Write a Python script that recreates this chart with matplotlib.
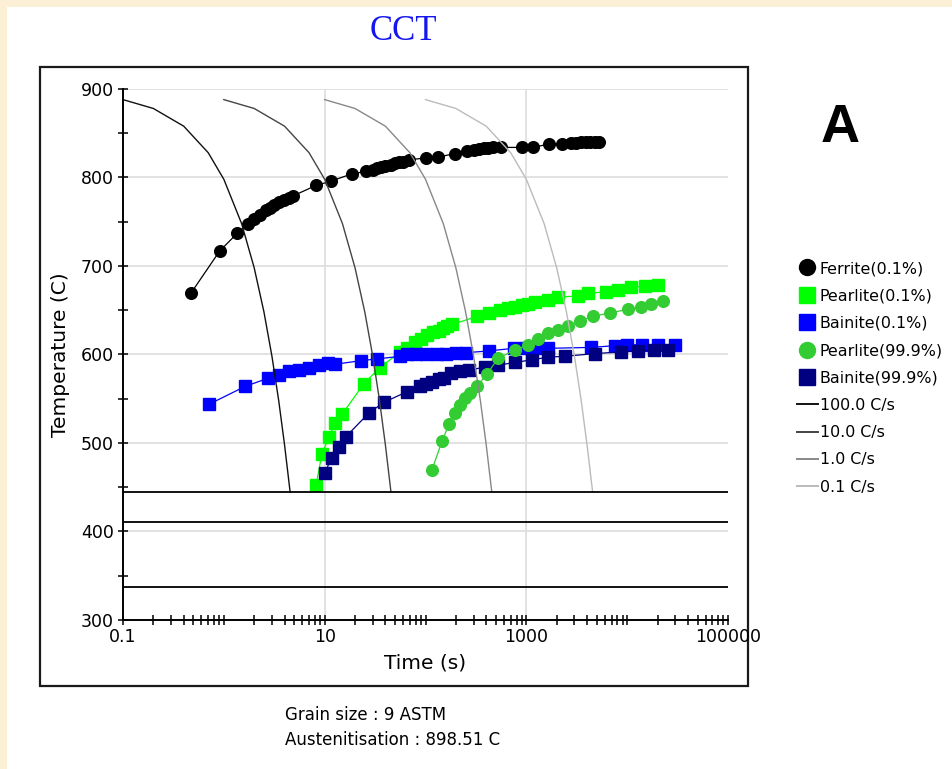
import matplotlib
matplotlib.use("Agg")
import matplotlib.pyplot as plt
from matplotlib.patches import Rectangle
from matplotlib.lines import Line2D
from matplotlib.ticker import FixedLocator, LogLocator, MultipleLocator, NullFormatter

# ---------------- data ----------------
ferrite_t = [0.47, 0.91, 1.36, 1.73, 2.0, 2.3, 2.62, 2.9, 3.17, 3.5, 3.98, 4.4, 4.81,
             8.2, 11.6, 18.5, 25.9, 30, 33, 36, 40, 45, 50, 55, 60, 68,
             100, 133, 195, 257, 300, 340, 380, 420, 470, 560,
             900, 1176, 1690, 2237, 2760, 3100, 3500, 3900, 4300, 4800, 5300]
ferrite_T = [669, 717, 737, 748, 753, 758, 763, 766, 769, 772, 775, 777, 779,
             791, 796, 804, 807, 809, 811, 812, 813, 814, 816, 817, 818, 820,
             822, 823, 827, 830, 831, 832, 833, 833, 834, 834,
             834, 834, 838, 838, 839, 839, 840, 840, 840, 840, 840]

pearlite1_t = [8.2, 9.4, 11.1, 12.7, 15, 24.5, 35, 56.5, 65, 79, 90, 103, 118, 135, 150,
               163, 185, 323, 422, 550, 664, 780, 900, 1050, 1219, 1650, 2070, 3265,
               4100, 6210, 8110, 11000, 14870, 20140]
pearlite1_T = [452, 488, 507, 523, 533, 567, 585, 603, 607, 614, 618, 622, 625, 627, 630,
               632, 634, 643, 647, 650, 652, 654, 656, 657, 659, 662, 665, 666,
               669, 671, 673, 676, 677, 678]

bainite1_t = [0.72, 1.63, 2.72, 3.55, 4.46, 5.6, 7.03, 8.83, 10.7, 12.7, 22.8, 33, 56.5,
              65, 80, 100, 130, 160, 200, 250, 422, 750, 1000, 1300, 1650, 4370,
              7600, 10000, 14000, 20000, 29600]
bainite1_T = [544, 564, 573, 577, 581, 583, 585, 588, 590, 589, 593, 595, 598,
              600, 600, 601, 601, 601, 602, 602, 604, 607, 607, 607, 607, 608,
              610, 611, 611, 611, 611]

pearlite2_t = [116, 146, 172, 198, 221, 248, 278, 324, 406, 529, 772, 1047, 1313, 1650,
               2070, 2600, 3390, 4590, 6700, 10170, 13770, 17300, 22550]
pearlite2_T = [470, 502, 522, 534, 543, 551, 556, 564, 578, 596, 605, 611, 618, 624,
               628, 632, 638, 643, 647, 651, 654, 657, 660]

bainite2_t = [10, 11.7, 13.9, 16.2, 27.5, 38.7, 65.8, 89, 100, 116, 135, 151, 180, 220,
              267, 391, 529, 772, 1128, 1650, 2410, 4780, 8730, 12770, 18650, 25200]
bainite2_T = [466, 483, 496, 507, 534, 546, 558, 564, 567, 569, 572, 574, 579, 581,
              582, 586, 588, 591, 594, 597, 598, 601, 603, 604, 605, 605]

cool_T = [888, 878, 858, 828, 798, 748, 698, 648, 598, 548, 498, 445]
cool100_t = [0.1, 0.2, 0.4, 0.7, 1.0, 1.5, 2.0, 2.5, 3.0, 3.5, 4.0, 4.54]
cool10_t = [1, 2, 4, 7, 10, 15, 20, 25, 30, 35, 40, 45.4]
cool1_t = [10, 20, 40, 70, 100, 150, 200, 250, 300, 350, 400, 454]
cool01_t = [100, 200, 400, 700, 1000, 1500, 2000, 2500, 3000, 3500, 4000, 4540]

hline_T = [445, 411, 337]

x_major = [0.1, 10, 1000, 100000]
x_major_labels = ["0.1", "10", "1000", "100000"]
y_major = [300, 400, 500, 600, 700, 800, 900]

series_labels = ["Ferrite(0.1%)", "Pearlite(0.1%)", "Bainite(0.1%)",
                 "Pearlite(99.9%)", "Bainite(99.9%)"]
cool_labels = ["100.0 C/s", "10.0 C/s", "1.0 C/s", "0.1 C/s"]

# ---------------- figure ----------------
W, H = 952, 769
fig = plt.figure(figsize=(W / 100, H / 100), dpi=100)
fig.patch.set_facecolor("#FBEFD6")
fig.add_artist(Rectangle((7 / W, 0), 1, 1 - 7 / H, transform=fig.transFigure,
                         facecolor="white", edgecolor="none", zorder=-10))
fig.add_artist(Rectangle((40 / W, 1 - 686 / H), 708 / W, 619 / H, transform=fig.transFigure,
                         fill=False, edgecolor="#1a1a1a", lw=1.6, zorder=-5))

ax = fig.add_axes([123 / W, 1 - 620 / H, 605 / W, 531 / H])
ax.set_xscale("log")
ax.set_xlim(0.1, 100000)
ax.set_ylim(300, 900)

ms_c = 8.4
ms_s = 8.8
ax.plot(ferrite_t, ferrite_T, color="black", lw=0.9, marker="o", ms=ms_c, zorder=6)
ax.plot(pearlite1_t, pearlite1_T, color="#00FF00", lw=0.9, marker="s", ms=ms_s, zorder=3)
ax.plot(bainite1_t, bainite1_T, color="#0000FF", lw=0.9, marker="s", ms=ms_s, zorder=4)
ax.plot(pearlite2_t, pearlite2_T, color="#33CC33", lw=0.9, marker="o", ms=ms_c, zorder=5)
ax.plot(bainite2_t, bainite2_T, color="#000080", lw=0.9, marker="s", ms=ms_s, zorder=4.5)

cool_colors = ["#111111", "#444444", "#888888", "#BBBBBB"]
for ts, c in zip([cool100_t, cool10_t, cool1_t, cool01_t], cool_colors):
    ax.plot(ts, cool_T, color=c, lw=1.0, zorder=7)

for T in hline_T:
    ax.axhline(T, color="black", lw=1.3, zorder=7)

# axes styling
for s in ["top", "right"]:
    ax.spines[s].set_visible(False)
for s in ["left", "bottom"]:
    ax.spines[s].set_linewidth(1.4)
    ax.spines[s].set_zorder(8)

ax.xaxis.set_major_locator(FixedLocator(x_major))
ax.set_xticklabels(x_major_labels)
ax.xaxis.set_minor_locator(LogLocator(base=10, subs=[1, 2, 3, 4, 5, 6, 7, 8, 9], numticks=20))
ax.xaxis.set_minor_formatter(NullFormatter())
ax.yaxis.set_major_locator(FixedLocator(y_major))
ax.yaxis.set_minor_locator(MultipleLocator(50))

ax.tick_params(which="both", direction="inout", length=7, width=1.1, colors="black",
               labelsize=12.5)
ax.tick_params(axis="x", pad=2)
ax.tick_params(axis="y", pad=3)

ax.grid(True, which="major", color="#DDDDDD", lw=1.2, zorder=0)
ax.set_axisbelow(True)
xgl = ax.get_xgridlines()
xgl[-1].set_visible(False)
xgl[0].set_visible(False)

ax.set_xlabel("Time (s)", fontsize=14.5, labelpad=6)
ax.set_ylabel("Temperature (C)", fontsize=14.5, labelpad=8)

# legend
handles = [
    Line2D([], [], ls="none", marker="o", ms=11.5, color="black"),
    Line2D([], [], ls="none", marker="s", ms=11.5, color="#00FF00"),
    Line2D([], [], ls="none", marker="s", ms=11.5, color="#0000FF"),
    Line2D([], [], ls="none", marker="o", ms=11.5, color="#33CC33"),
    Line2D([], [], ls="none", marker="s", ms=11.5, color="#000080"),
] + [Line2D([], [], color=c, lw=1.4) for c in cool_colors]
fig.legend(handles, series_labels + cool_labels, loc="upper left",
           bbox_to_anchor=(797 / W, 1 - 261 / H), frameon=False, fontsize=11.4,
           handlelength=1.3, handletextpad=0.15, labelspacing=0.78,
           borderpad=0, borderaxespad=0)

# texts
fig.text(403 / W, 1 - 31 / H, "CCT", color="#1515F0", fontsize=25,
         family="Liberation Serif", ha="center", va="center")
fig.text(840 / W, 1 - 128 / H, "A", color="black", fontsize=39, fontweight="bold",
         family="Liberation Sans", ha="center", va="center")
fig.text(285 / W, 1 - 715 / H, "Grain size : 9 ASTM", fontsize=12, ha="left", va="center")
fig.text(285 / W, 1 - 740 / H, "Austenitisation : 898.51 C", fontsize=12, ha="left",
         va="center")

fig.savefig("out.png", dpi=100, facecolor=fig.get_facecolor())
